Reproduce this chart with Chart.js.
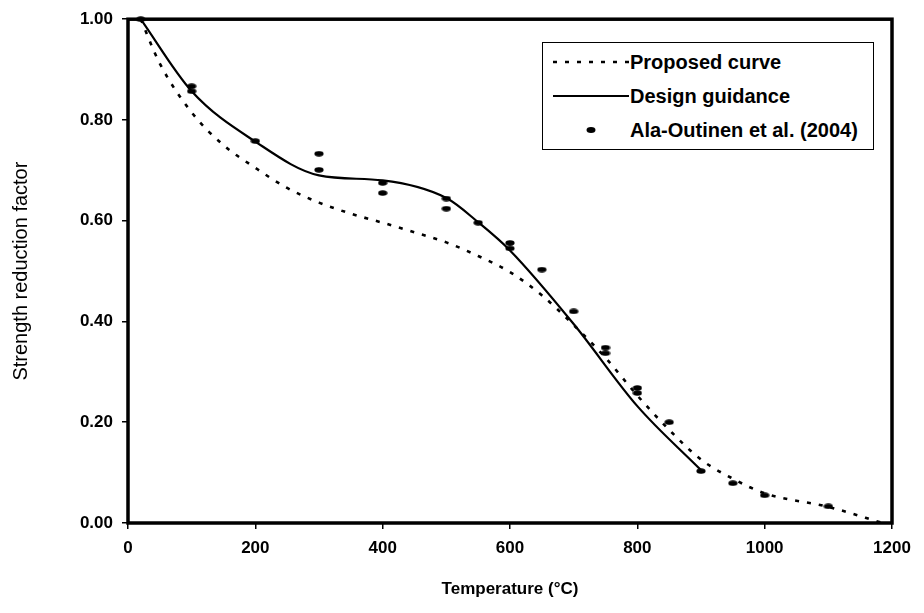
<!DOCTYPE html>
<html>
<head>
<meta charset="utf-8">
<script src="https://cdn.jsdelivr.net/npm/chart.js@4.4.1/dist/chart.umd.min.js"></script>
<style>
html, body { margin: 0; padding: 0; background: #fff; }
#wrap { position: relative; width: 924px; height: 613px; overflow: hidden; }
#c { position: absolute; left: 0; top: 0; }
#legend { position: absolute; left: 542px; top: 42px; width: 332px; height: 108px; border: 1.5px solid #000; background: #fff;
  font-family: "Liberation Sans", Arial, sans-serif; font-weight: bold; font-size: 20px; color: #000; box-sizing: border-box; }
.row { position: absolute; left: 0; width: 100%; height: 24px; }
.row svg { position: absolute; left: 8px; top: 0; }
.row span { position: absolute; left: 87px; top: 0px; white-space: nowrap; line-height: 24px; }
</style>
</head>
<body>
<div id="wrap">
  <canvas id="c" width="924" height="613"></canvas>
  <div id="legend">
    <div class="row" style="top:7px"><svg width="82" height="24"><line x1="2" y1="12" x2="78" y2="12" stroke="#000" stroke-width="2.5" stroke-dasharray="4 8"/></svg><span>Proposed curve</span></div>
    <div class="row" style="top:41px"><svg width="82" height="24"><line x1="2" y1="12" x2="78" y2="12" stroke="#000" stroke-width="2.2"/></svg><span>Design guidance</span></div>
    <div class="row" style="top:75px"><svg width="82" height="24"><ellipse cx="40" cy="12" rx="4.5" ry="3" fill="#000"/></svg><span>Ala-Outinen et al. (2004)</span></div>
  </div>
</div>
<script>
// ---- Data ----
const proposedT = [20, 50, 100, 150, 200, 250, 300, 350, 400, 450, 500, 550, 600, 650, 700, 750, 800, 850, 900, 950, 1000, 1100, 1185];
const proposedV = [1.00, 0.912, 0.815, 0.75, 0.705, 0.665, 0.636, 0.614, 0.596, 0.577, 0.557, 0.530, 0.498, 0.452, 0.393, 0.328, 0.253, 0.185, 0.126, 0.088, 0.059, 0.032, 0.0];

const designT = [20, 100, 200, 300, 400, 500, 550, 600, 700, 800, 900];
const designV = [1.00, 0.857, 0.757, 0.69, 0.68, 0.645, 0.597, 0.541, 0.395, 0.232, 0.105];

const alaT = [20, 100, 100, 200, 300, 300, 400, 400, 500, 500, 550, 600, 600, 650, 700, 750, 750, 800, 800, 850, 900, 950, 1000, 1100];
const alaV = [1.00, 0.867, 0.857, 0.758, 0.733, 0.701, 0.675, 0.655, 0.644, 0.624, 0.596, 0.556, 0.545, 0.503, 0.420, 0.348, 0.337, 0.268, 0.258, 0.200, 0.103, 0.079, 0.055, 0.033];

const xTicks = [0, 200, 400, 600, 800, 1000, 1200];
const yTicks = [0.00, 0.20, 0.40, 0.60, 0.80, 1.00];

// ---- Helpers ----
const pts = (xs, ys) => xs.map((x, i) => ({ x: x, y: ys[i] }));

const dot = document.createElement('canvas');
dot.width = 10; dot.height = 6;
(function () {
  const g = dot.getContext('2d');
  g.fillStyle = '#000';
  g.beginPath();
  g.ellipse(5, 3, 4.6, 2.8, 0, 0, Math.PI * 2);
  g.fill();
})();

const FONT = '"Liberation Sans", Arial, Helvetica, sans-serif';
Chart.defaults.font.family = FONT;
Chart.defaults.color = '#000';

const framePlugin = {
  id: 'frame',
  afterDraw(chart) {
    const { ctx, chartArea: a } = chart;
    ctx.save();
    ctx.strokeStyle = '#000';
    ctx.lineWidth = 3.5;
    ctx.strokeRect(a.left, a.top, a.right - a.left, a.bottom - a.top);
    ctx.restore();
  }
};

new Chart(document.getElementById('c'), {
  type: 'scatter',
  data: {
    datasets: [
      {
        label: 'Proposed curve',
        data: pts(proposedT, proposedV),
        showLine: true,
        borderColor: '#000',
        borderWidth: 2.6,
        borderDash: [4, 8],
        pointRadius: 0,
        cubicInterpolationMode: 'monotone',
        fill: false
      },
      {
        label: 'Design guidance',
        data: pts(designT, designV),
        showLine: true,
        borderColor: '#000',
        borderWidth: 2.2,
        pointRadius: 0,
        cubicInterpolationMode: 'monotone',
        fill: false
      },
      {
        label: 'Ala-Outinen et al. (2004)',
        data: pts(alaT, alaV),
        showLine: false,
        pointStyle: dot,
        pointRadius: 4,
        backgroundColor: '#000',
        borderColor: '#000',
        clip: false
      }
    ]
  },
  options: {
    responsive: false,
    animation: false,
    devicePixelRatio: 1,
    layout: { padding: { top: 18, right: 32, left: 0, bottom: 0 } },
    plugins: { legend: { display: false }, tooltip: { enabled: false } },
    scales: {
      x: {
        type: 'linear',
        min: 0, max: 1200,
        afterBuildTicks(s) { s.ticks = xTicks.map(v => ({ value: v })); },
        afterFit(s) { s.height = 90; },
        ticks: { font: { size: 17, weight: 'bold' }, color: '#000', padding: 9, maxRotation: 0,
                 callback: v => String(v) },
        grid: { drawOnChartArea: false, drawTicks: true, tickLength: 6, color: '#000', lineWidth: 1.5 },
        border: { display: false },
        title: { display: true, text: 'Temperature (°C)', font: { size: 17, weight: 'bold' }, color: '#000',
                 padding: { top: 0, bottom: 13 } }
      },
      y: {
        type: 'linear',
        min: 0, max: 1,
        afterBuildTicks(s) { s.ticks = yTicks.map(v => ({ value: v })); },
        afterFit(s) { s.width = 128; },
        ticks: { font: { size: 17, weight: 'bold' }, color: '#000', padding: 9,
                 callback: v => Number(v).toFixed(2) },
        grid: { drawOnChartArea: false, drawTicks: true, tickLength: 6, color: '#000', lineWidth: 1.5 },
        border: { display: false },
        title: { display: true, text: 'Strength reduction factor', font: { size: 20, weight: 'normal' }, color: '#000',
                 padding: { top: 9, bottom: 0 } }
      }
    }
  },
  plugins: [framePlugin]
});
</script>
</body>
</html>
